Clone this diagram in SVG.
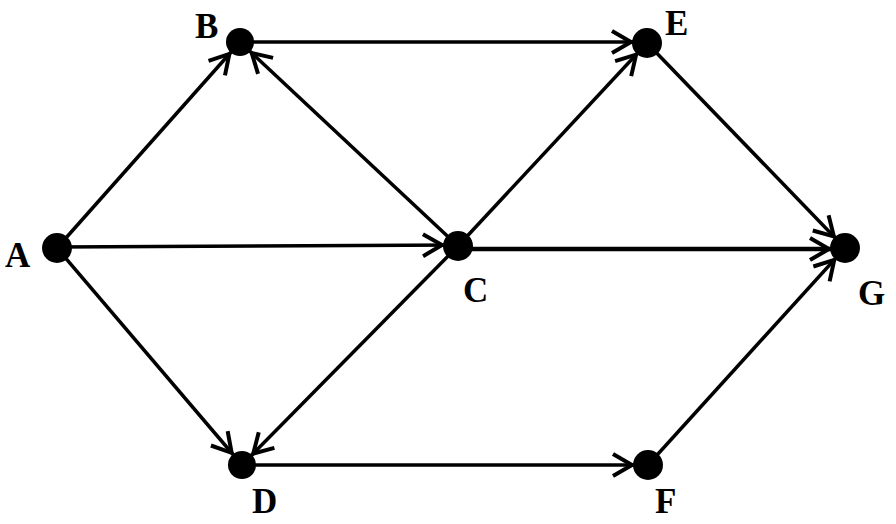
<svg xmlns="http://www.w3.org/2000/svg" width="896" height="524" viewBox="0 0 896 524">
  <style>
    .edge { stroke: #000; stroke-width: 3.5; fill: none; marker-end: url(#arr); }
    .node { fill: #000; }
    .lbl { font-family: "Liberation Serif", "Times New Roman", serif; font-weight: bold; font-size: 35px; fill: #000; }
  </style>
  <defs>
    <marker id="arr" markerUnits="userSpaceOnUse" markerWidth="60" markerHeight="60" refX="16" refY="0" orient="auto" overflow="visible">
      <path d="M-19,-11 L0,0 L-19,11" fill="none" stroke="#000" stroke-width="4" stroke-linejoin="miter"/>
    </marker>
  </defs>
  <rect width="896" height="524" fill="#fff"/>
  <g id="connectors">
    <line class="edge" x1="57" y1="248" x2="240" y2="42"/>
    <line class="edge" x1="240" y1="42" x2="647" y2="42"/>
    <line class="edge" x1="458" y1="246" x2="240" y2="42"/>
    <line class="edge" x1="458" y1="246" x2="647" y2="43"/>
    <line class="edge" x1="647" y1="43" x2="845" y2="248"/>
    <line class="edge" x1="57" y1="247" x2="458" y2="245"/>
    <line class="edge" x1="458" y1="249" x2="845" y2="249" style="stroke-width:4.5"/>
    <line class="edge" x1="57" y1="248" x2="242" y2="465"/>
    <line class="edge" x1="458" y1="246" x2="242" y2="465"/>
    <line class="edge" x1="242" y1="465" x2="648" y2="465"/>
    <line class="edge" x1="648" y1="465" x2="845" y2="248"/>
  </g>
  <g id="A"><circle class="node" cx="57" cy="248" r="15"/><text class="lbl" x="5" y="267">A</text></g>
  <g id="B"><circle class="node" cx="240" cy="42" r="14"/><text class="lbl" x="195" y="38">B</text></g>
  <g id="E"><circle class="node" cx="647" cy="43" r="15"/><text class="lbl" x="665" y="35">E</text></g>
  <g id="C"><circle class="node" cx="458" cy="246" r="15"/><text class="lbl" x="463" y="302">C</text></g>
  <g id="G"><circle class="node" cx="845" cy="248" r="15"/><text class="lbl" x="858" y="305">G</text></g>
  <g id="D"><circle class="node" cx="242" cy="465" r="14"/><text class="lbl" x="252" y="513">D</text></g>
  <g id="F"><circle class="node" cx="648" cy="465" r="15"/><text class="lbl" x="655" y="513">F</text></g>
</svg>
